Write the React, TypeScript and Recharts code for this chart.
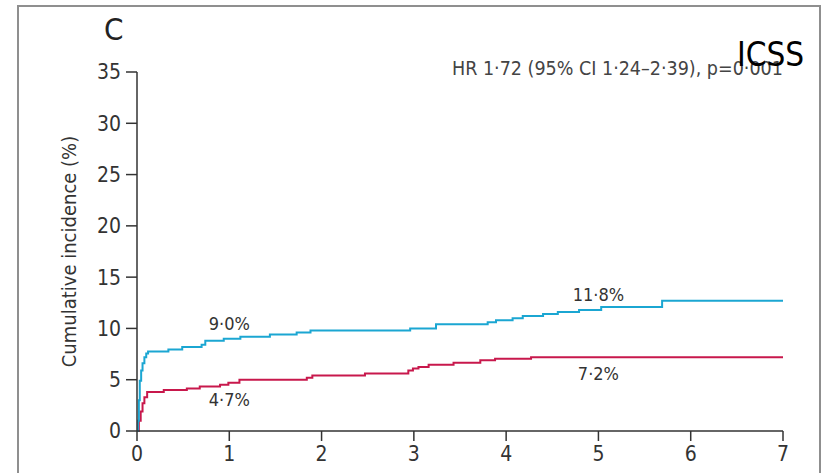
import { LineChart, Line, XAxis, YAxis, ReferenceDot } from "recharts"

// Cumulative incidence by years since randomisation (step estimates)
const BLUE_TIMES = [0, 0.01, 0.02, 0.03, 0.045, 0.06, 0.08, 0.1, 0.12, 0.34, 0.49, 0.7, 0.74, 0.94, 1.12, 1.44, 1.73, 1.88, 2.96, 3.24, 3.8, 3.89, 4.07, 4.18, 4.4, 4.56, 4.79, 5.03, 5.69, 7]
const BLUE_VALUES = [0, 1.0, 3.0, 4.9, 5.9, 6.6, 7.2, 7.55, 7.75, 7.95, 8.2, 8.4, 8.8, 9.0, 9.2, 9.4, 9.6, 9.8, 10.0, 10.4, 10.6, 10.8, 11.0, 11.2, 11.4, 11.6, 11.8, 12.1, 12.7, 12.7]

const RED_TIMES = [0, 0.02, 0.04, 0.06, 0.08, 0.11, 0.29, 0.54, 0.68, 0.9, 0.99, 1.11, 1.84, 1.9, 2.47, 2.94, 2.99, 3.05, 3.16, 3.43, 3.72, 3.88, 4.27, 7]
const RED_VALUES = [0, 1.0, 1.9, 2.7, 3.3, 3.8, 4.0, 4.15, 4.35, 4.5, 4.7, 5.0, 5.2, 5.4, 5.6, 5.9, 6.1, 6.25, 6.45, 6.65, 6.9, 7.05, 7.2, 7.2]

const X_TICKS = [0, 1, 2, 3, 4, 5, 6, 7]
const Y_TICKS = [0, 5, 10, 15, 20, 25, 30, 35]

// labelled values: [time, value, text]
const BLUE_LABELS: [number, number, string][] = [
  [1, 9.0, "9·0%"],
  [5, 11.8, "11·8%"],
]
const RED_LABELS: [number, number, string][] = [
  [1, 4.7, "4·7%"],
  [5, 7.2, "7·2%"],
]

const HR_TEXT = "HR 1·72 (95% CI 1·24–2·39), p=0·001"

const blueData = BLUE_TIMES.map((t, i) => ({ t, v: BLUE_VALUES[i] }))
const redData = RED_TIMES.map((t, i) => ({ t, v: RED_VALUES[i] }))

const FONT = "'Liberation Sans Narrow', 'DejaVu Sans Condensed', sans-serif"
const INK = "#333"
const BLUE = "#1ba6d2"
const RED = "#c8184c"

export default function App() {
  return (
    <div style={{ position: "absolute", left: 0, top: 0, width: 822, height: 473, overflow: "hidden", background: "#fff" }}>
      {/* panel frame */}
      <div
        style={{
          position: "absolute",
          left: 17,
          top: 5,
          width: 800,
          height: 520,
          border: "2px solid #8f8f8f",
          borderBottom: "none",
        }}
      />
      <LineChart
        width={822}
        height={473}
        margin={{ top: 72, right: 39, bottom: 0, left: 0 }}
        style={{ position: "absolute", left: 0, top: 0 }}
      >
        <XAxis
          type="number"
          dataKey="t"
          domain={[0, 7]}
          ticks={X_TICKS}
          allowDataOverflow
          height={42}
          tickSize={10}
          tickMargin={5}
          stroke={INK}
          strokeWidth={1.5}
          tick={{ fill: INK, fontSize: 21, fontFamily: FONT }}
        />
        <YAxis
          type="number"
          dataKey="v"
          domain={[0, 35]}
          ticks={Y_TICKS}
          width={137}
          tickSize={11}
          tickMargin={5}
          stroke={INK}
          strokeWidth={1.5}
          tick={{ fill: INK, fontSize: 21, fontFamily: FONT }}
          label={{
            value: "Cumulative incidence (%)",
            angle: -90,
            position: "center",
            dx: 0,
            style: { fill: INK, fontSize: 20, fontFamily: FONT, textAnchor: "middle" },
          }}
        />
        <Line
          data={redData}
          dataKey="v"
          type="stepAfter"
          stroke={RED}
          strokeWidth={2}
          dot={false}
          isAnimationActive={false}
        />
        <Line
          data={blueData}
          dataKey="v"
          type="stepAfter"
          stroke={BLUE}
          strokeWidth={2}
          dot={false}
          isAnimationActive={false}
        />
        {BLUE_LABELS.map(([t, v, text]) => (
          <ReferenceDot
            key={text}
            x={t}
            y={v}
            r={0}
            stroke="none"
            label={{ value: text, position: "top", offset: 9, fill: INK, fontSize: 18, fontFamily: FONT }}
          />
        ))}
        {RED_LABELS.map(([t, v, text]) => (
          <ReferenceDot
            key={text}
            x={t}
            y={v}
            r={0}
            stroke="none"
            label={{ value: text, position: "bottom", offset: 10, fill: INK, fontSize: 18, fontFamily: FONT }}
          />
        ))}
      </LineChart>
      {/* panel letter, hazard ratio note and trial name */}
      <div style={{ position: "absolute", left: 104, top: 14, fontFamily: FONT, fontSize: 31, fontWeight: 400, color: "#222", lineHeight: 1 }}>
        C
      </div>
      <div style={{ position: "absolute", left: 452, top: 59, fontFamily: FONT, fontSize: 19.5, color: "#444", lineHeight: 1, whiteSpace: "nowrap" }}>
        {HR_TEXT}
      </div>
      <div style={{ position: "absolute", left: 737, top: 38, fontFamily: FONT, fontSize: 33, color: "#000", lineHeight: 1 }}>
        ICSS
      </div>
    </div>
  )
}
